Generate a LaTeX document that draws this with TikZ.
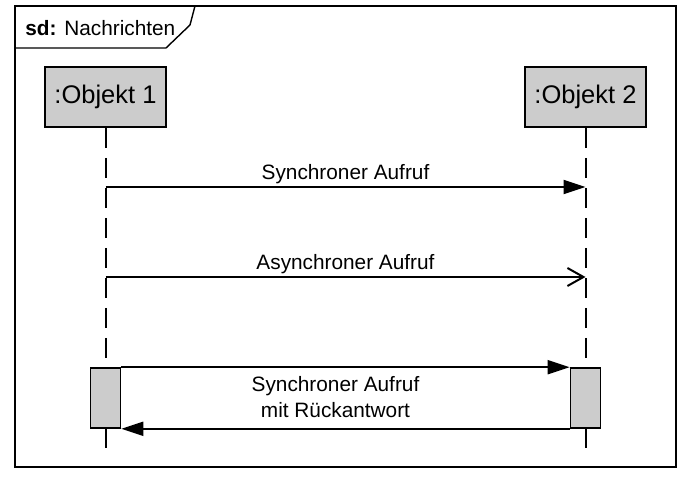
\documentclass[tikz,border=0pt]{standalone}
\usepackage{fontspec}
\setmainfont{Liberation Sans}
\usetikzlibrary{arrows.meta}

\begin{document}
\begin{tikzpicture}[
  x=0.5pt, y=-0.5pt,
  font=\fontsize{10.4}{13}\selectfont,
  object/.style={rectangle, draw, thick, fill=black!20, minimum width=60.5pt, minimum height=30pt, inner sep=0pt, font=\fontsize{12.75}{15}\selectfont},
  activation/.style={rectangle, draw, thick, fill=black!20, minimum width=15pt, minimum height=30pt, inner sep=0pt},
  lifeline/.style={draw, line width=1pt, dash pattern=on 10pt off 5pt},
  sync/.style={draw, line width=1pt, -{Triangle[length=11pt,width=7pt]}},
  async/.style={draw, line width=1pt, -{Straight Barb[length=8pt,width=9pt,line width=1pt]}}
]
\useasboundingbox (0,0) rectangle (698,481);
% frame
\draw[line width=0.7pt] (15,6) rectangle (676,467);
\draw[line width=0.7pt] (15,48) -- (166,48) -- (190,25) -- (195,6);
\node[anchor=west, inner sep=0pt] (title) at (25,28) {\textbf{sd:} Nachrichten};

\node [object] (obj1) at (105.5,97) {:Objekt 1};
\node [object, right of=obj1, node distance=240pt] (obj2) {:Objekt 2};

\coordinate (end1) at (105.5,450);
\coordinate (end2) at (585.5,450);
\path [lifeline] (obj1.south) -- (end1);
\path [lifeline] (obj2.south) -- (end2);

\node [activation] (act1) at (105.5,398) {};
\node [activation] (act2) at (585.5,398) {};

\coordinate (s1) at (105.5,187);
\coordinate (e1) at (585.5,187);
\coordinate (s2) at (105.5,277);
\coordinate (e2) at (585.5,277);

\path [sync] (s1) -- node[above=-2pt] {Synchroner Aufruf} (e1);
\path [async] (s2) -- node[above=-2pt] {Asynchroner Aufruf} (e2);
\path [sync] (act1.north east) -- (act2.north west);
\path [sync] (act2.south west) -- (act1.south east);
\node [align=center] (reply) at (335.5,397) {Synchroner Aufruf\\mit Rückantwort};
\end{tikzpicture}
\end{document}
